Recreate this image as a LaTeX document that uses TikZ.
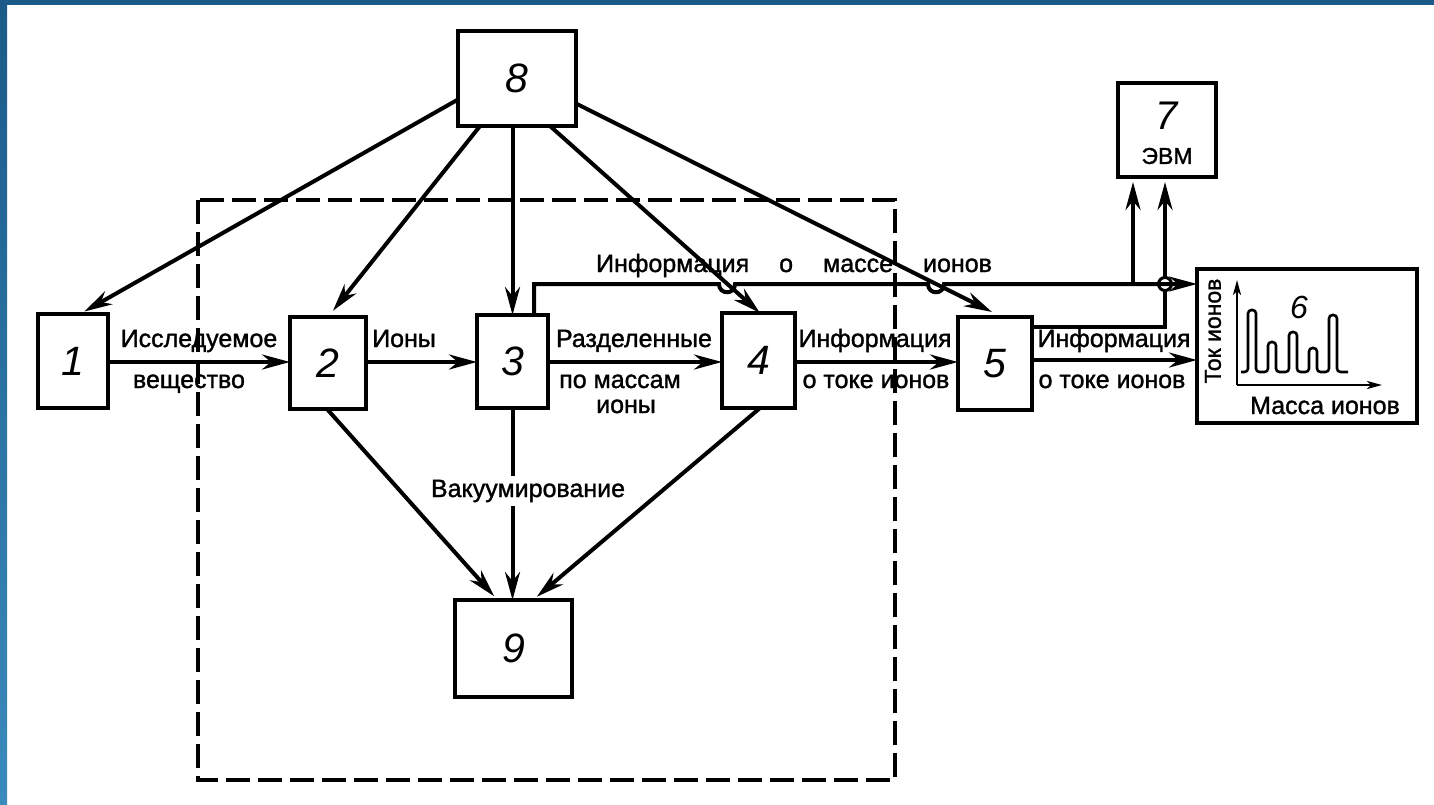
\documentclass[tikz,border=0pt]{standalone}
\usepackage{fontspec}
\setmainfont{Liberation Sans}
\newfontfamily\lblfont{Liberation Sans}[FakeBold=1.3]
\usetikzlibrary{arrows.meta,calc}
\definecolor{frameA}{HTML}{1B5A89}
\definecolor{frameB}{HTML}{3A8BBC}
\begin{document}
\begin{tikzpicture}[x=1pt,y=-1pt,
  box/.style={draw, line width=4.2pt, inner sep=0pt, outer sep=0pt, font=\fontsize{41}{43}\selectfont\itshape},
  arr/.style={line width=4pt, -{Stealth[length=28pt,width=15pt,inset=9pt]}},
  ln/.style={line width=4pt},
  thinarr/.style={line width=2.6pt, -{Stealth[length=15pt,width=8pt,inset=4pt]}},
  lab/.style={font=\lblfont\fontsize{25}{28}\selectfont, inner sep=0pt, anchor=base},
  dashframe/.style={draw, line width=3.6pt, dash pattern=on 24pt off 8pt}]
\useasboundingbox (0,0) rectangle (1434,804);
\fill[white] (0,0) rectangle (1434,804);
\fill[frameA] (0,0) rectangle (1434,5);
\shade[top color=frameA, bottom color=frameB] (0,0) rectangle (7,804);

% dashed enclosure
\draw[dashframe] (198,200) rectangle (895,780);

% boxes
\node[box, minimum width=118pt, minimum height=95pt] (b8) at (517,78.5) {8};
\node[box, minimum width=70pt, minimum height=94pt] (b1) at (73,361) {1};
\node[box, minimum width=76pt, minimum height=92pt] (b2) at (328,363) {2};
\node[box, minimum width=71pt, minimum height=93pt] (b3) at (512.5,361.5) {3};
\node[box, minimum width=73pt, minimum height=95pt] (b4) at (758.5,360.5) {4};
\node[box, minimum width=74pt, minimum height=93pt] (b5) at (995,363.5) {5};
\node[box, minimum width=117pt, minimum height=97pt] (b9) at (513.5,648.5) {9};
\node[box, minimum width=98pt, minimum height=94pt] (b7) at (1167,130) {};
\node[box, minimum width=220pt, minimum height=154pt] (b6) at (1307,346) {};

\node[font=\fontsize{40}{42}\selectfont\itshape, inner sep=0pt] (n7) at (1167,116) {7};
\node[font=\lblfont\fontsize{23}{26}\selectfont, inner sep=0pt] (evm) at (1167,156) {ЭВМ};

% arrows from 8
\draw[arr, shorten >=5pt] ([yshift=-21pt]b8.west) -- ([xshift=7pt]b1.north);
\draw[arr, shorten >=8pt] ([xshift=22pt]b8.south west) -- (b2.north);
\draw[arr] (b3.north |- b8.south) -- (b3.north);
\draw[arr] ([xshift=-26pt]b8.south east) -- ([xshift=1.5pt]b4.north);
\draw[arr] ([yshift=-25pt]b8.east) -- ([xshift=-3pt,yshift=5pt]b5.north);

% mass information line
\coordinate (t0) at (534,284);
\draw[arr] ([xshift=21.5pt]b3.north) |- (719,284)
   .. controls (719,295) and (735,295) .. (735,284) -- (928,284)
   .. controls (928,295) and (944,295) .. (944,284) -- (b6.west |- t0);
\coordinate (j1) at (1133,284);
\draw[arr, shorten >=5pt] (j1) -- (j1 |- b7.south);

% ion current information to computer
\coordinate (j2) at (1165,327);
\coordinate (j2b) at (1165,290);
\coordinate (j3) at (1165,278);
\draw[ln] ([yshift=36.5pt]b5.east) -- (j2) -- (j2b);
\draw[line width=3pt] (1165,284) circle[radius=6.5pt];
\draw[arr, shorten >=5pt] (j3) -- (j3 |- b7.south);

% main row
\coordinate (row) at (0,362);
\coordinate (row2) at (0,360);
\draw[arr] (b1.east |- row) -- (b2.west |- row);
\draw[arr] (b2.east |- row) -- (b3.west |- row);
\draw[arr] (b3.east |- row) -- (b4.west |- row);
\draw[arr] (b4.east |- row) -- (b5.west |- row);
\draw[arr] (b5.east |- row2) -- (b6.west |- row2);

% to 9
\draw[arr, shorten >=5pt] ([xshift=-1pt]b2.south) -- ([xshift=-16pt]b9.north);
\draw[arr] (b3.south) -- (b3.south |- b9.north);
\draw[arr, shorten >=5pt] ([xshift=1.5pt]b4.south) -- ([xshift=19.5pt]b9.north);
\node[font=\lblfont\fontsize{25}{28}\selectfont, fill=white, inner sep=4pt] (vac) at (528,491) {Вакуумирование};

% labels
\node[lab] (l1a) at (199,347) {Исследуемое};
\node[lab] (l1b) at (189,388) {вещество};
\node[lab] (l2) at (404,347) {Ионы};
\node[lab] (l3a) at (634,347) {Разделенные};
\node[lab] (l3b) at (620,388) {по массам};
\node[lab] (l3c) at (626,413) {ионы};
\node[lab] (l4a) at (875,347) {Информация};
\node[lab] (l4b) at (876,388) {о токе ионов};
\node[lab] (l5a) at (1114,347) {Информация};
\node[lab] (l5b) at (1112,388) {о токе ионов};
\node[lab] (ltop) at (794,272) {Информация\hspace{30pt}о\hspace{30pt}массе\hspace{30pt}ионов};

% inside box 6
\node[font=\fontsize{32}{34}\selectfont\itshape, inner sep=0pt] (n6) at (1299,307) {6};
\node[font=\lblfont\fontsize{25}{28}\selectfont, inner sep=0pt, anchor=base] (mass) at (1325,414) {Масса ионов};
\node[font=\lblfont\fontsize{23}{26}\selectfont, inner sep=0pt, rotate=90] (tok) at (1213,331) {Ток ионов};
\coordinate (o) at (1237,385);
\draw[thinarr] (o) -- (1237,280);
\draw[thinarr] (o) -- (1382,385);
\draw[line width=2.6pt, rounded corners=3.5pt]
  (1241,372) -- (1248,372) -- (1248,310) -- (1256,310) -- (1256,372)
  -- (1268,372) -- (1268,342) -- (1276,342) -- (1276,372)
  -- (1289,372) -- (1289,332) -- (1297,332) -- (1297,372)
  -- (1309,372) -- (1309,348) -- (1317,348) -- (1317,372)
  -- (1329,372) -- (1329,315) -- (1337,315) -- (1337,372) -- (1348,372);
\end{tikzpicture}
\end{document}
